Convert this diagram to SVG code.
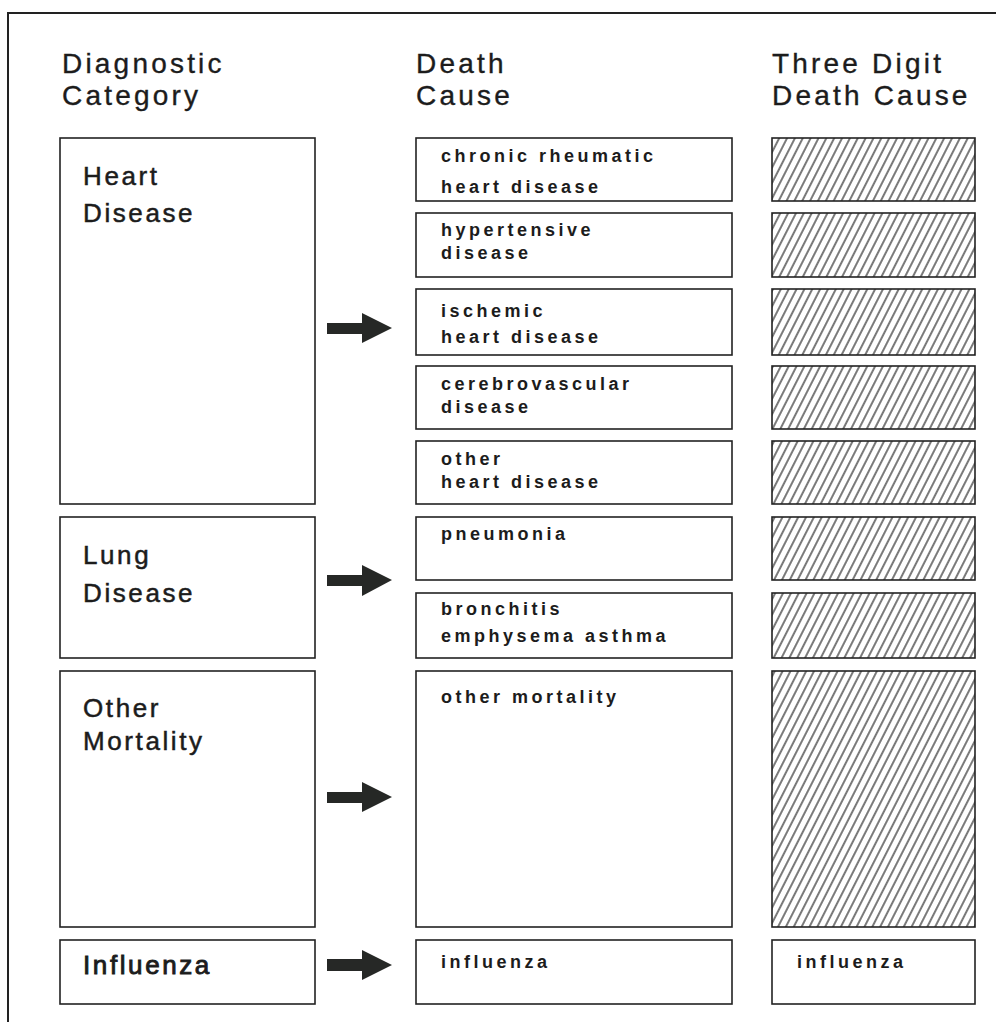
<svg xmlns="http://www.w3.org/2000/svg" width="996" height="1026" viewBox="0 0 996 1026">
  <defs>
    <style>
      .box { fill: #ffffff; stroke: #222222; stroke-width: 1.6; }
      .hatch { fill: url(#diag); stroke: #222222; stroke-width: 1.6; }
      .head { font-family: "Liberation Sans", Arial, sans-serif; font-size: 28px; letter-spacing: 3.2px; fill: #1c1c1c; stroke: #1c1c1c; stroke-width: 0.35; }
      .cat { font-family: "Liberation Sans", Arial, sans-serif; font-size: 26px; letter-spacing: 2.6px; fill: #1c1c1c; stroke: #1c1c1c; stroke-width: 0.5; }
      .cause { font-family: "Liberation Sans", Arial, sans-serif; font-size: 18px; font-weight: bold; letter-spacing: 3.5px; fill: #1c1c1c; }
      .arrow { fill: #262826; }
    </style>
    <pattern id="diag" patternUnits="userSpaceOnUse" width="7" height="20" patternTransform="rotate(27)">
      <rect width="7" height="20" fill="#ffffff"/>
      <line x1="1" y1="0" x2="1" y2="20" stroke="#222222" stroke-width="1.2"/>
    </pattern>
  </defs>

  <rect width="996" height="1026" fill="#ffffff"/>

  <!-- page frame -->
  <polyline points="8,1022 8,13 996,13" fill="none" stroke="#222222" stroke-width="2"/>

  <!-- column headings -->
  <g id="headings">
    <text class="head" x="62" y="73">Diagnostic</text>
    <text class="head" x="62" y="105">Category</text>
    <text class="head" x="416" y="73">Death</text>
    <text class="head" x="416" y="105">Cause</text>
    <text class="head" x="772" y="73">Three Digit</text>
    <text class="head" x="772" y="105">Death Cause</text>
  </g>

  <!-- diagnostic categories -->
  <g id="cat-heart">
    <rect class="box" x="60" y="138" width="255" height="366"/>
    <text class="cat" x="83" y="185">Heart</text>
    <text class="cat" x="83" y="222">Disease</text>
  </g>
  <g id="cat-lung">
    <rect class="box" x="60" y="517" width="255" height="141"/>
    <text class="cat" x="83" y="564">Lung</text>
    <text class="cat" x="83" y="602">Disease</text>
  </g>
  <g id="cat-other">
    <rect class="box" x="60" y="671" width="255" height="256"/>
    <text class="cat" x="83" y="717">Other</text>
    <text class="cat" x="83" y="750">Mortality</text>
  </g>
  <g id="cat-influenza">
    <rect class="box" x="60" y="940" width="255" height="64"/>
    <text class="cat" x="83" y="974" style="stroke-width:0.9">Influenza</text>
  </g>

  <!-- death causes -->
  <g id="cause-rheumatic">
    <rect class="box" x="416" y="138" width="316" height="63"/>
    <text class="cause" x="441" y="162">chronic rheumatic</text>
    <text class="cause" x="441" y="193">heart disease</text>
  </g>
  <g id="cause-hypertensive">
    <rect class="box" x="416" y="213" width="316" height="64"/>
    <text class="cause" x="441" y="236">hypertensive</text>
    <text class="cause" x="441" y="259">disease</text>
  </g>
  <g id="cause-ischemic">
    <rect class="box" x="416" y="289" width="316" height="66"/>
    <text class="cause" x="441" y="317">ischemic</text>
    <text class="cause" x="441" y="343">heart disease</text>
  </g>
  <g id="cause-cerebrovascular">
    <rect class="box" x="416" y="366" width="316" height="63"/>
    <text class="cause" x="441" y="390">cerebrovascular</text>
    <text class="cause" x="441" y="413">disease</text>
  </g>
  <g id="cause-other-heart">
    <rect class="box" x="416" y="441" width="316" height="63"/>
    <text class="cause" x="441" y="465">other</text>
    <text class="cause" x="441" y="488">heart disease</text>
  </g>
  <g id="cause-pneumonia">
    <rect class="box" x="416" y="517" width="316" height="63"/>
    <text class="cause" x="441" y="540">pneumonia</text>
  </g>
  <g id="cause-bronchitis">
    <rect class="box" x="416" y="593" width="316" height="65"/>
    <text class="cause" x="441" y="615">bronchitis</text>
    <text class="cause" x="441" y="642">emphysema asthma</text>
  </g>
  <g id="cause-other-mortality">
    <rect class="box" x="416" y="671" width="316" height="256"/>
    <text class="cause" x="441" y="703">other mortality</text>
  </g>
  <g id="cause-influenza">
    <rect class="box" x="416" y="940" width="316" height="64"/>
    <text class="cause" x="441" y="968">influenza</text>
  </g>

  <!-- three digit death causes -->
  <g id="code-1"><rect class="hatch" x="772" y="138" width="203" height="63"/></g>
  <g id="code-2"><rect class="hatch" x="772" y="213" width="203" height="64"/></g>
  <g id="code-3"><rect class="hatch" x="772" y="289" width="203" height="66"/></g>
  <g id="code-4"><rect class="hatch" x="772" y="366" width="203" height="63"/></g>
  <g id="code-5"><rect class="hatch" x="772" y="441" width="203" height="63"/></g>
  <g id="code-6"><rect class="hatch" x="772" y="517" width="203" height="63"/></g>
  <g id="code-7"><rect class="hatch" x="772" y="593" width="203" height="65"/></g>
  <g id="code-8"><rect class="hatch" x="772" y="671" width="203" height="256"/></g>
  <g id="code-influenza">
    <rect class="box" x="772" y="940" width="203" height="64"/>
    <text class="cause" x="797" y="968">influenza</text>
  </g>

  <!-- arrows from category to causes -->
  <g id="connectors">
    <path class="arrow" d="M327,323 H362 V313 L392,328 L362,343 V334 H327 Z"/>
    <path class="arrow" d="M327,575 H362 V565 L392,580 L362,596 V586 H327 Z"/>
    <path class="arrow" d="M327,792 H362 V782 L392,797 L362,812 V803 H327 Z"/>
    <path class="arrow" d="M327,959 H362 V950 L392,965 L362,980 V971 H327 Z"/>
  </g>
</svg>
